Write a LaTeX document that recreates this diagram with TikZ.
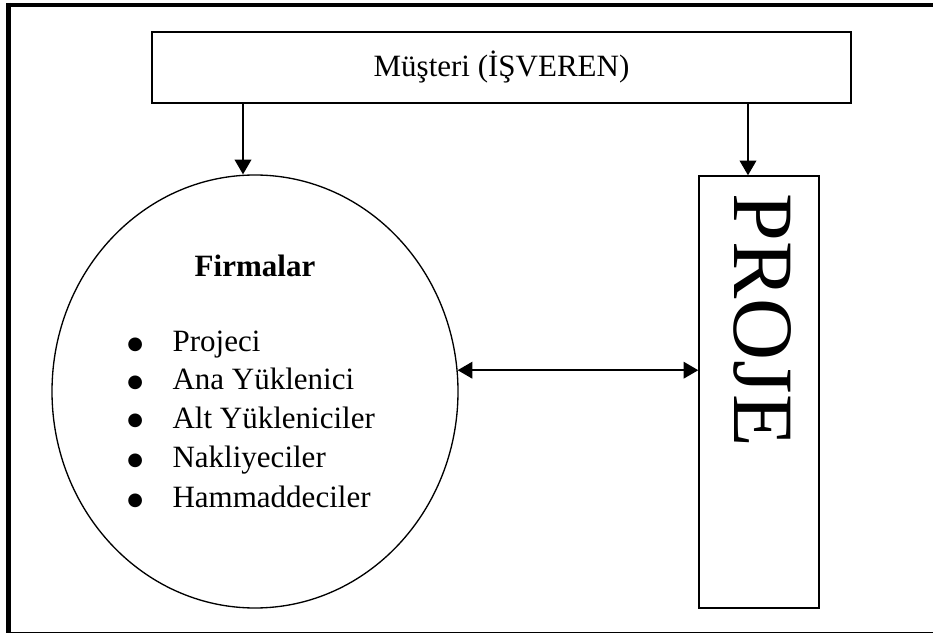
\documentclass[tikz,border=0pt]{standalone}
\usepackage{fontspec}
\setmainfont{Liberation Serif}
\newfontfamily\symbolfont{DejaVu Sans}
\usetikzlibrary{arrows.meta,shapes.geometric}

% list marker: a solid round dot set in a smaller symbol font
\newcommand{\listdot}{\makebox[34pt][l]{\raisebox{2pt}{\fontsize{13.5pt}{14pt}\symbolfont ●}}}

\tikzset{
  boxline/.style={draw=black, line width=1.1pt, inner sep=0pt},
  tip/.tip={Triangle[length=11pt,width=12.5pt]},
  flow/.style={draw=black, line width=1.1pt, -tip},
  bothways/.style={draw=black, line width=1.1pt, tip-tip},
  bodytext/.style={font=\fontsize{23.25pt}{27pt}\selectfont, inner sep=0pt},
  listitem/.style={bodytext, anchor=base west},
}

\begin{document}
\begin{tikzpicture}[x=0.75pt,y=-0.75pt]
  % page area and outer frame
  \fill[white] (0,0) rectangle (933,634);
  \useasboundingbox (0,0) rectangle (933,634);
  \draw[line width=3.4pt] (6,5) -- (933,5);
  \draw[line width=3.75pt] (8.5,3) -- (8.5,633);
  \draw[line width=1.2pt] (6,632.5) -- (933,632.5);

  % client box
  \node[boxline, rectangle, minimum width=524.25pt, minimum height=53.25pt,
        bodytext] (client) at (501.5,67.5) {Müşteri (İŞVEREN)};

  % companies
  \node[draw=black, line width=1pt, ellipse, inner sep=0pt,
        minimum width=304.5pt, minimum height=324.75pt] (firms) at (255,391.5) {};
  \node[bodytext, anchor=base, font=\fontsize{23.25pt}{27pt}\selectfont\bfseries]
       (firmstitle) at (255,277) {Firmalar};
  \node[listitem] (i1) at (127,352) {\listdot Projeci};
  \node[listitem] (i2) at (127,390) {\listdot Ana Yüklenici};
  \node[listitem] (i3) at (127,428.5) {\listdot Alt Yükleniciler};
  \node[listitem] (i4) at (127,468) {\listdot Nakliyeciler};
  \node[listitem] (i5) at (127,508) {\listdot Hammaddeciler};

  % project box
  \node[boxline, rectangle, minimum width=90pt, minimum height=324pt] (proj) at (759,392) {};
  \node[inner sep=0pt, rotate=-90, font=\fontsize{64.5pt}{70pt}\selectfont]
       (projlabel) at (762.5,320) {PROJE};

  % connectors
  \draw[flow] ([xshift=-9pt]firms.north |- client.south) -- ([xshift=-9pt]firms.north);
  \draw[flow] ([xshift=-8.25pt]proj.north |- client.south) -- ([xshift=-8.25pt]proj.north);
  \draw[bothways] (firms.6.6) -- (proj.west |- firms.6.6);
\end{tikzpicture}
\end{document}
